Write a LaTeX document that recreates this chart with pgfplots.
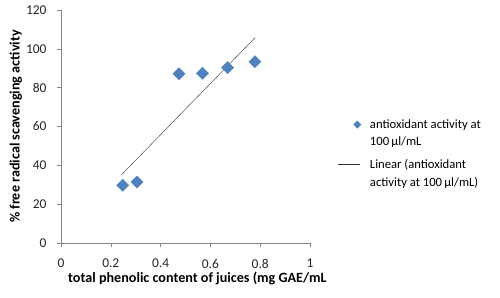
\documentclass[border=0pt]{standalone}
\usepackage{pgfplots}
\pgfplotsset{compat=1.18}
\usepackage{fontspec}
\setmainfont{Carlito}
\definecolor{mblue}{HTML}{4F81BD}
\definecolor{axgray}{HTML}{868686}
\pgfplotsset{
  mkleg/.style={legend image code/.code={\path (0bp,-9bp) (0bp,9bp); \draw[##1, mark size=2.6bp] plot coordinates {(19bp,9bp)};}},
  lnleg/.style={legend image code/.code={\path (0bp,-9bp) (0bp,9bp); \draw[##1] (0bp,9bp) -- (22bp,9bp);}},
}
\begin{document}
\begin{tikzpicture}[x=1bp,y=1bp]
\useasboundingbox (-61,-54) rectangle (439,243);
\begin{axis}[
  at={(0,0)}, anchor=origin,
  scale only axis, width=249bp, height=233bp,
  xmin=0, xmax=1, ymin=0, ymax=120,
  xtick={0,0.2,...,1}, ytick={0,20,...,120},
  axis lines*=left,
  axis line style={axgray},
  tick style={axgray, thin},
  major tick length=4bp,
  tick align=outside,
  ticklabel style={font=\fontsize{13.5}{15}\selectfont, text=black!85},
  xticklabel style={inner sep=0pt, yshift=-12bp},
  yticklabel style={xshift=-7bp},
  /pgf/number format/assume math mode=true,
  xlabel={\bfseries total phenolic content of juices (mg GAE/mL},
  ylabel={\bfseries \% free radical scavenging activity},
  label style={font=\fontsize{14.2}{16}\selectfont},
  xlabel style={at={(axis description cs:0,0)}, anchor=west, inner sep=0pt, xshift=7bp, yshift=-35bp},
  ylabel style={at={(axis description cs:-0.181,0.5)}, anchor=center},
  legend style={at={(axis description cs:1.112,0.53)}, anchor=north west, draw=none, fill=none,
    inner sep=0pt, font=\fontsize{12.7}{17.5}\selectfont, row sep=12bp,
    nodes={align=left, inner sep=0pt}, column sep=9bp},
  legend cell align=left,
  clip=false,
]
\addplot[only marks, mark=square*, mark size=4.3bp, mark options={rotate=45, fill=mblue, draw=mblue}, mkleg]
  coordinates {(0.248,29.7) (0.305,31.4) (0.474,87.2) (0.568,87.4) (0.669,90.3) (0.779,93.4)};
\addlegendentry{antioxidant activity at\\100\,µl/mL}
\addplot[black!80, thin, no marks, lnleg]
  coordinates {(0.245,35.4) (0.779,105.7)};
\addlegendentry{Linear (antioxidant\\activity at 100\,µl/mL)}
\end{axis}
\end{tikzpicture}
\end{document}
